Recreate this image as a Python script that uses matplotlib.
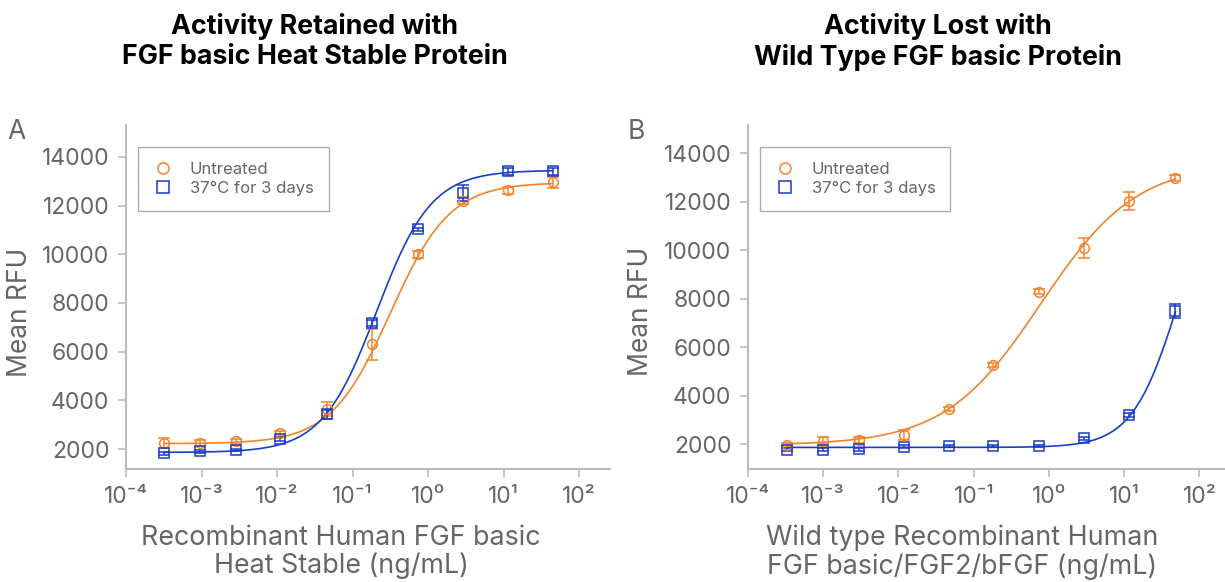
import numpy as np
import matplotlib
matplotlib.use("Agg")
import matplotlib.pyplot as plt
from matplotlib.lines import Line2D

plt.rcParams['font.family'] = ['Inter', 'DejaVu Sans']

ORANGE = "#F5832A"
BLUE = "#1A3EC4"
GRAY = "#666666"
AXIS = "#BBBBBB"

# Panel A - heat stable protein
conc_a = [3.2e-4, 9.5e-4, 2.9e-3, 1.1e-2, 4.6e-2, 0.18, 0.74, 2.9, 11.5, 45]
untreated_a = [2250, 2250, 2310, 2650, 3640, 6310, 10000, 12200, 12620, 12960]
untreated_a_err = [220, 120, 120, 80, 300, 640, 150, 150, 150, 220]
heated_a = [1820, 1900, 1960, 2410, 3420, 7160, 11020, 12520, 13400, 13400]
heated_a_err = [60, 80, 60, 80, 200, 120, 60, 320, 150, 150]

# Panel B - wild type protein
conc_b = [3.3e-4, 1.0e-3, 3.0e-3, 1.2e-2, 4.7e-2, 0.18, 0.74, 2.95, 11.7, 48]
untreated_b = [1970, 2140, 2180, 2360, 3450, 5260, 8280, 10090, 12020, 12970]
untreated_b_err = [60, 150, 120, 200, 80, 80, 100, 410, 360, 120]
heated_b = [1770, 1770, 1780, 1890, 1920, 1920, 1920, 2230, 3180, 7500]
heated_b_err = [50, 50, 50, 50, 50, 50, 50, 50, 80, 290]

# 4PL fit parameters: bottom, top, log10 EC50, hill
fit_untreated_a = [2220, 12950, -0.5, 1.1]
fit_heated_a = [1860, 13450, -0.68, 1.2]
fit_untreated_b = [1950, 13600, -0.11, 0.68]
fit_heated_b = [1860, 14000, 1.73, 1.4]

xticks = [1e-4, 1e-3, 1e-2, 1e-1, 1e0, 1e1, 1e2]
xticklabels = ['10⁻⁴', '10⁻³', '10⁻²', '10⁻¹', '10⁰', '10¹', '10²']
yticks = [2000, 4000, 6000, 8000, 10000, 12000, 14000]


def four_pl(x, p):
    bottom, top, logec, hill = p
    return bottom + (top - bottom) / (1 + 10 ** (hill * (logec - np.log10(x))))


def draw_series(ax, x, y, err, fit, color, marker, size):
    xs = np.logspace(np.log10(x[0]), np.log10(x[-1]), 300)
    ax.plot(xs, four_pl(xs, fit), color=color, lw=1.2, zorder=2)
    ax.errorbar(x, y, yerr=err, fmt=marker, mfc='none', mec=color, ms=size, mew=1.1,
                ecolor=color, elinewidth=1.1, capsize=4, capthick=1.1, zorder=3)


fig = plt.figure(figsize=(12.25, 5.82), dpi=100)
ax_a = fig.add_axes([126 / 1225, 113 / 582, 484 / 1225, 344 / 582])
ax_b = fig.add_axes([748 / 1225, 113 / 582, 477 / 1225, 344 / 582])

draw_series(ax_a, conc_a, untreated_a, untreated_a_err, fit_untreated_a, ORANGE, 'o', 7)
draw_series(ax_a, conc_a, heated_a, heated_a_err, fit_heated_a, BLUE, 's', 6.5)
draw_series(ax_b, conc_b, untreated_b, untreated_b_err, fit_untreated_b, ORANGE, 'o', 7)
draw_series(ax_b, conc_b, heated_b, heated_b_err, fit_heated_b, BLUE, 's', 6.5)

ax_a.set_xlim(1e-4, 10 ** 2.41)
ax_a.set_ylim(1180, 15310)
ax_b.set_xlim(1e-4, 10 ** 2.34)
ax_b.set_ylim(970, 15155)

for ax in [ax_a, ax_b]:
    ax.set_xscale('log')
    ax.set_xticks(xticks)
    ax.set_xticklabels(xticklabels)
    ax.minorticks_off()
    ax.set_yticks(yticks)
    ax.spines['top'].set_visible(False)
    ax.spines['right'].set_visible(False)
    for s in ['left', 'bottom']:
        ax.spines[s].set_color(AXIS)
        ax.spines[s].set_linewidth(1.5)
    ax.tick_params(axis='both', colors=AXIS, labelcolor=GRAY, labelsize=16.5, length=6, width=1.2, pad=6)
    handles = [Line2D([], [], ls='none', marker='o', mfc='none', mec=ORANGE, ms=8, mew=1.1),
               Line2D([], [], ls='none', marker='s', mfc='none', mec=BLUE, ms=8, mew=1.1)]
    leg = ax.legend(handles, ['Untreated', '37°C for 3 days'], loc='upper left',
                    bbox_to_anchor=(12 / 480, 1 - 22 / 344), fontsize=12, labelcolor=GRAY,
                    frameon=True, fancybox=False, edgecolor='#999999', borderpad=0.9,
                    handletextpad=1.0, labelspacing=0.25, borderaxespad=0, handlelength=1.2)
    leg.get_frame().set_linewidth(1.0)

fig.text(20 / 1225, 1 - 312 / 582, 'Mean RFU', fontsize=19, color=GRAY, rotation=90,
         ha='center', va='center')
fig.text(641 / 1225, 1 - 311 / 582, 'Mean RFU', fontsize=19, color=GRAY, rotation=90,
         ha='center', va='center')

fig.text(7 / 1225, 1 - 132 / 582, 'A', fontsize=19, color=GRAY, ha='left', va='center')
fig.text(628 / 1225, 1 - 132 / 582, 'B', fontsize=19, color=GRAY, ha='left', va='center')

fig.text(315 / 1225, 1 - 42 / 582, 'Activity Retained with\nFGF basic Heat Stable Protein',
         fontsize=19.3, fontweight='bold', ha='center', va='center', linespacing=1.2)
fig.text(938 / 1225, 1 - 42 / 582, 'Activity Lost with\nWild Type FGF basic Protein',
         fontsize=19.3, fontweight='bold', ha='center', va='center', linespacing=1.2)

fig.text(341 / 1225, 1 - 552 / 582, 'Recombinant Human FGF basic\nHeat Stable (ng/mL)',
         fontsize=19.3, color=GRAY, ha='center', va='center', linespacing=1.12)
fig.text(962 / 1225, 1 - 552 / 582, 'Wild type Recombinant Human\nFGF basic/FGF2/bFGF (ng/mL)',
         fontsize=19.3, color=GRAY, ha='center', va='center', linespacing=1.12)

fig.savefig('out.png', dpi=100)
